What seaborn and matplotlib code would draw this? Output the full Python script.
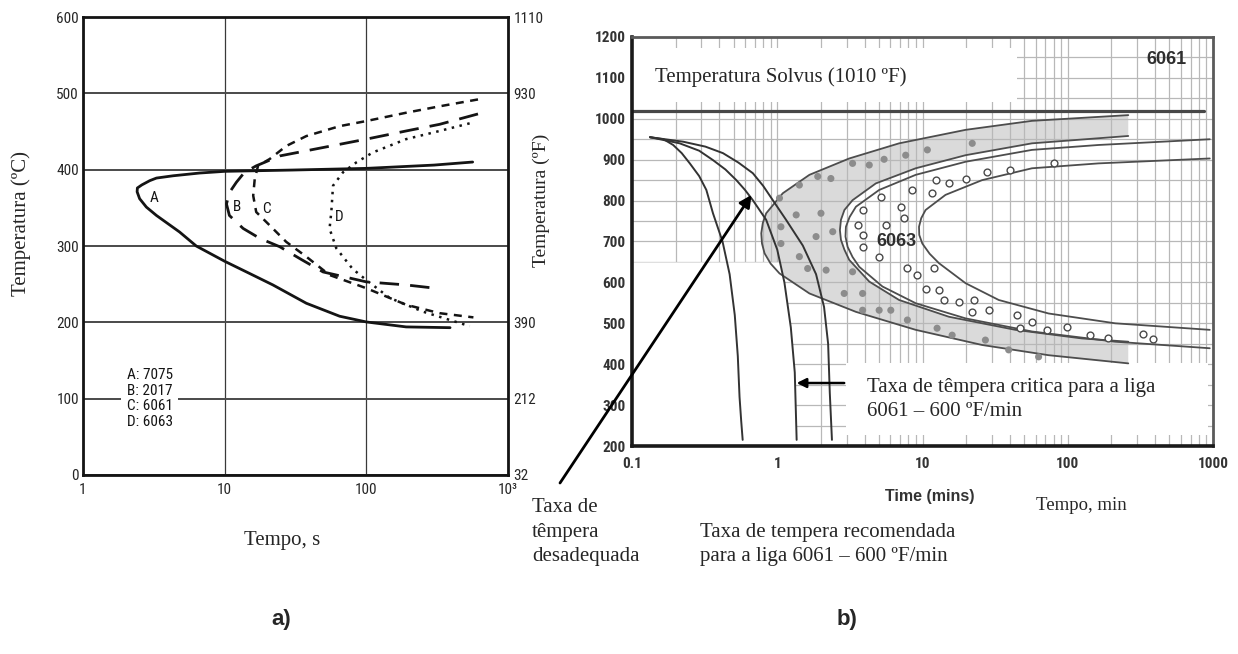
import numpy as np
import pandas as pd
import matplotlib
matplotlib.use("Agg")
import matplotlib.pyplot as plt
import matplotlib.font_manager as fm
from matplotlib.patches import Rectangle
from matplotlib.ticker import NullLocator, LogLocator, NullFormatter
import seaborn as sns

# ----------------------------- DATA: panel a) (time in s, temperature in degC)
a_A_time = [563, 300, 100, 30, 10, 6.66, 4.33, 3.3, 2.96, 2.6, 2.42, 2.41, 2.51, 2.8, 3.3, 4.8, 6.3,
            10, 15, 21.9, 37.7, 64.8, 100, 191, 390]
a_A_temp = [410, 406, 401.7, 399.5, 397.8, 395.6, 392, 389, 385.6, 380, 376, 371, 362, 351, 340, 318.4, 300,
            280, 264, 249, 225, 208, 200.5, 194, 193]
a_B_time = [614, 329, 191, 100, 49.5, 24.5, 16.7, 13.8, 12.1, 10.8, 10.3, 10.8, 13.5, 17.7, 24.5, 35,
            49.5, 100, 191, 280]
a_B_temp = [473, 459.4, 450.7, 440, 429, 418, 405, 396.5, 383.5, 370, 355, 340, 323, 310, 299, 282,
            266, 253, 249, 245.5]
a_C_time = [614, 329, 191, 100, 64.8, 37.7, 27.2, 20.8, 17.2, 16.3, 15.9, 16.7, 20.8, 27.2, 37.7, 55,
            100, 191, 329, 570]
a_C_temp = [492, 483, 474.6, 463.7, 457, 444, 431, 414, 405, 387.8, 366, 344.5, 327, 305.4, 286, 262,
            244.7, 223, 212, 206.5]
a_D_time = [536, 329, 191, 111, 85, 68.4, 58.2, 56.6, 55, 61.4, 80, 100, 146, 251, 537]
a_D_temp = [460.7, 450.7, 440, 422.5, 409.5, 396.5, 379, 344.5, 322.7, 297, 270, 255.4, 232, 214, 195]
a_curve_letters = ["A", "B", "C", "D"]
a_letter_time = [3.18, 12.3, 19.6, 64]
a_letter_temp = [363, 351, 349, 338.6]
a_legend_lines = ["A: 7075", "B: 2017", "C: 6061", "D: 6063"]
a_yticks_C = [0, 100, 200, 300, 400, 500, 600]
a_xticks = [1, 10, 100, 1000]
a_xticklabels = ["1", "10", "100", "10³"]
a_right_ticks_C = [0, 100, 200, 500, 600]
a_right_labels_F = ["32", "212", "390", "930", "1110"]

# ----------------------------- DATA: panel b) (time in min, temperature in degF)
b_cool1_time = [0.133, 0.165, 0.192, 0.22, 0.25, 0.29, 0.325, 0.361, 0.42, 0.47, 0.51, 0.535, 0.55, 0.565, 0.578]
b_cool1_temp = [955, 950, 936, 916, 891, 860, 826, 769, 700, 620, 520, 420, 320, 260, 215]
b_cool2_time = [0.133, 0.213, 0.29, 0.361, 0.44, 0.523, 0.6, 0.679, 0.839, 1.0, 1.12, 1.24, 1.32, 1.36]
b_cool2_temp = [955, 940, 922, 899, 876, 850, 826, 801, 753, 680, 600, 490, 380, 215]
b_cool3_time = [0.133, 0.225, 0.32, 0.423, 0.54, 0.679, 0.8, 0.932, 1.15, 1.50, 1.85, 2.10, 2.24, 2.30, 2.38]
b_cool3_temp = [955, 944, 932, 916, 893, 867, 836, 801, 753, 690, 620, 540, 450, 330, 215]

b_6061_outer_time = [261, 56.7, 19.8, 6.90, 3.13, 1.665, 1.092, 0.839, 0.795, 0.776, 0.785, 0.818, 0.9,
                     1.036, 1.665, 3.48, 8.98, 25.7, 73.8, 261]
b_6061_outer_temp = [1009, 995, 973, 940, 903, 863, 818, 769, 745, 720, 695, 671, 646,
                     622, 573, 528, 484, 447, 422, 402]
b_6061_inner_time = [261, 56.7, 19.8, 8.98, 4.77, 3.30, 2.9, 2.745, 2.7, 2.745, 2.9, 3.13, 4.30, 6.90,
                     15.2, 43.6, 125, 261]
b_6061_inner_temp = [958, 940, 911, 879, 842, 801, 777, 753, 728, 704, 680, 655, 602, 557,
                     516, 484, 463, 455]
b_6063_outer_time = [950, 163, 56.7, 19.8, 8.98, 5.03, 3.48, 3.15, 2.97, 2.95, 3.05, 3.3, 3.67, 5.30,
                     8.98, 19.8, 56.7, 212, 950]
b_6063_outer_temp = [950, 936, 924, 895, 863, 826, 785, 760, 736, 712, 687, 662, 638, 590,
                     549, 512, 480, 455, 439]
b_6063_inner_time = [950, 163, 56.7, 25.7, 14.4, 10.5, 9.8, 9.46, 9.5, 9.97, 11.2, 12.98, 19.8, 33.5,
                     73.8, 212, 950]
b_6063_inner_temp = [903, 891, 879, 850, 814, 777, 757, 736, 716, 695, 670, 647, 598, 557,
                     524, 500, 484]

b_dot_time = [10.8, 7.66, 5.44, 4.30, 3.30, 2.34, 1.90, 1.42, 1.036, 1.35, 1.06, 2.00, 2.41, 1.85,
              1.42, 1.06, 2.17, 3.30, 1.62, 2.89, 3.87, 5.03, 6.05, 7.87, 3.87, 12.6, 16.0, 22.0,
              27.1, 39.2, 63]
b_dot_temp = [924, 911, 901, 887, 891, 854, 859, 838, 806, 765, 736, 769, 724, 712,
              663, 695, 630, 626, 634, 573, 573, 532, 532, 508, 532, 488, 471, 940,
              459, 435, 418]
b_ring_time = [79.8, 40.3, 27.9, 19.8, 15.2, 12.3, 8.52, 11.7, 5.16, 3.87, 7.08, 7.46, 5.59, 3.57,
               3.87, 3.87, 5.03, 7.87, 9.21, 12.0, 10.5, 12.98, 14.0, 17.8, 22.6, 22.0, 28.6,
               44.7, 56.7, 47.2, 71.9, 98.6, 142, 190, 331, 388]
b_ring_temp = [891, 875, 871, 854, 842, 850, 826, 818, 810, 777, 785, 757, 740, 740,
               716, 687, 663, 634, 618, 634, 585, 581, 557, 553, 557, 528, 532,
               520, 504, 488, 484, 492, 471, 463, 475, 461]
b_solvus_temp = 1020
b_yticks = [200, 300, 400, 500, 600, 700, 800, 900, 1000, 1100, 1200]
b_xticks = [0.1, 1, 10, 100, 1000]
b_xticklabels = ["0.1", "1", "10", "100", "1000"]

# ----------------------------- fonts
sns.set_style("white")
names = {f.name for f in fm.fontManager.ttflist}
def pick(cands, default="DejaVu Sans"):
    for c in cands:
        if c in names:
            return c
    return default
NARROW = pick(["Liberation Sans Narrow", "Roboto Condensed", "Open Sans Condensed"], "DejaVu Sans")
SANS = pick(["Liberation Sans", "Arimo"], "DejaVu Sans")
SERIF = pick(["Liberation Serif", "Tinos"], "DejaVu Serif")
plt.rcParams["font.family"] = [SANS, "DejaVu Sans"]
narrow_kw = dict(family=[NARROW, "DejaVu Sans"], stretch="condensed")
nsize = 11 if NARROW != "DejaVu Sans" else 9.5
serif_kw = dict(family=[SERIF, "DejaVu Serif"])

W, H = 1238, 654
fig = plt.figure(figsize=(W / 100, H / 100), dpi=100)
fig.patch.set_facecolor("white")
def fx(x):
    return x / W
def fy(y):
    return 1 - y / H

# ============================== panel a ==============================
ax = fig.add_axes([fx(83), fy(475), 425 / W, 458 / H])
ax.set_xscale("log")
ax.set_xlim(1, 1000)
ax.set_ylim(0, 600)

curves_a = [
    (a_A_time, a_A_temp, None, 2.0),
    (a_B_time, a_B_temp, (7, 4), 2.0),
    (a_C_time, a_C_temp, (3.2, 2.6), 1.8),
    (a_D_time, a_D_temp, (1.0, 2.2), 1.8),
]
for t, T, dash, lw in curves_a:
    df = pd.DataFrame({"t": t, "T": T})
    sns.lineplot(data=df, x="t", y="T", sort=False, estimator=None, ax=ax,
                 color="#141414", linewidth=lw, zorder=3)
    ln = ax.lines[-1]
    ln.set_solid_joinstyle("round")
    ln.set_dash_joinstyle("round")
    if dash is not None:
        ln.set_dashes(dash)

for lab, t, T in zip(a_curve_letters, a_letter_time, a_letter_temp):
    ax.text(t, T, lab, ha="center", va="center", fontsize=nsize, color="#141414", **narrow_kw)

ax.text(2.03, 100, "\n".join(a_legend_lines), ha="left", va="center", fontsize=nsize,
        linespacing=1.15, color="#141414", zorder=4,
        bbox=dict(facecolor="white", edgecolor="none", pad=4), **narrow_kw)

ax.set_yticks(a_yticks_C)
ax.set_yticklabels([str(v) for v in a_yticks_C], fontsize=nsize, **narrow_kw)
ax.set_xticks(a_xticks)
ax.set_xticklabels(a_xticklabels, fontsize=nsize, **narrow_kw)
ax.xaxis.set_minor_locator(NullLocator())
ax.tick_params(axis="y", length=0, pad=3)
ax.tick_params(axis="x", length=0, pad=6)
ax.grid(axis="y", color="#4a4a4a", linewidth=1.4)
ax.grid(axis="x", color="#3a3a3a", linewidth=0.9)
ax.set_axisbelow(True)
for s in ax.spines.values():
    s.set_linewidth(2)
    s.set_color("#141414")
ax.set_xlabel("")
ax.set_ylabel("")

ax2 = ax.twinx()
ax2.set_ylim(0, 600)
ax2.set_yticks(a_right_ticks_C)
ax2.set_yticklabels(a_right_labels_F, fontsize=nsize, **narrow_kw)
ax2.tick_params(axis="y", length=0, pad=4)
for s in ax2.spines.values():
    s.set_visible(False)

fig.text(fx(21), fy(224), "Temperatura (ºC)", rotation=90, ha="center", va="center", fontsize=15, **serif_kw)
fig.text(fx(541), fy(200), "Temperatura (ºF)", rotation=90, ha="center", va="center", fontsize=14, **serif_kw)
fig.text(fx(282), fy(540), "Tempo, s", ha="center", va="center", fontsize=15, **serif_kw)
fig.text(fx(281), fy(620), "a)", ha="center", va="center", fontsize=16, fontweight="bold")

# ============================== panel b ==============================
bx = fig.add_axes([fx(632), fy(446), 581 / W, 409 / H])
bx.set_xscale("log")
bx.set_xlim(0.1, 1000)
bx.set_ylim(200, 1200)
bx.set_yticks(b_yticks)
bx.set_yticks([v + 50 for v in b_yticks[:-1]], minor=True)
bx.set_xticks(b_xticks)
bx.xaxis.set_minor_locator(LogLocator(base=10, subs=np.arange(2, 10)))
bx.xaxis.set_minor_formatter(NullFormatter())
bx.set_yticklabels([str(v) for v in b_yticks], fontsize=nsize, fontweight="bold", color="#333333", **narrow_kw)
bx.set_xticklabels(b_xticklabels, fontsize=nsize, fontweight="bold", color="#333333", **narrow_kw)
bx.tick_params(axis="y", which="major", length=3, width=1.6, color="#333333", pad=1.5)
bx.tick_params(axis="x", which="major", length=0, pad=8)
bx.tick_params(which="minor", length=0)
bx.grid(which="both", color="#b8b8b8", linewidth=0.9)
bx.set_axisbelow(True)
for side, s in bx.spines.items():
    if side in ("left", "bottom"):
        s.set_linewidth(2.6)
        s.set_color("#1a1a1a")
    else:
        s.set_linewidth(2)
        s.set_color("#5a5a5a")

# shaded 6061 band (between outer and inner boundaries)
bx.fill(np.r_[b_6061_outer_time, b_6061_inner_time[::-1]],
        np.r_[b_6061_outer_temp, b_6061_inner_temp[::-1]],
        color="#dadada", lw=0, zorder=0.3)

# white regions of the scan (no grid)
T_edge = np.linspace(200, 650, 60)
t_edge = np.interp(T_edge, b_cool2_temp[::-1], b_cool2_time[::-1])
bx.fill_betweenx(T_edge, 0.1, t_edge, color="white", lw=0, zorder=0.8)
bx.add_patch(Rectangle((0.1, 1041), 44.5 - 0.1, 1173 - 1041, facecolor="white", edgecolor="none", zorder=1))
bx.add_patch(Rectangle((2.98, 227), 925 - 2.98, 403 - 227, facecolor="white", edgecolor="none", zorder=1))

bx.axhline(b_solvus_temp, xmin=0, xmax=0.985, color="#474747", lw=2.3, zorder=2)

for t, T in [(b_6061_outer_time, b_6061_outer_temp), (b_6061_inner_time, b_6061_inner_temp),
             (b_6063_outer_time, b_6063_outer_temp), (b_6063_inner_time, b_6063_inner_temp)]:
    sns.lineplot(x=t, y=T, sort=False, estimator=None, ax=bx, color="#4d4d4d", linewidth=1.3, zorder=2)
    bx.lines[-1].set_solid_joinstyle("round")

sns.scatterplot(x=b_dot_time, y=b_dot_temp, ax=bx, s=26, color="#8c8c8c", edgecolor="none", zorder=2.5)
sns.scatterplot(x=b_ring_time, y=b_ring_temp, ax=bx, s=24, color="white", edgecolor="#4a4a4a",
                linewidth=1.0, zorder=2.5)

for t, T in [(b_cool1_time, b_cool1_temp), (b_cool2_time, b_cool2_temp), (b_cool3_time, b_cool3_temp)]:
    sns.lineplot(x=t, y=T, sort=False, estimator=None, ax=bx, color="#333333", linewidth=1.4, zorder=3)
    bx.lines[-1].set_solid_joinstyle("round")

bx.set_xlabel("")
bx.set_ylabel("")

bx.text(476, 1144, "6061", ha="center", va="center", fontsize=13, fontweight="bold", color="#2e2e2e", zorder=4)
bx.text(6.58, 699, "6063", ha="center", va="center", fontsize=13, fontweight="bold", color="#2e2e2e", zorder=4)

bx.annotate("", xy=(1.36, 354), xytext=(2.89, 354),
            arrowprops=dict(arrowstyle="-|>", color="black", lw=1.8, mutation_scale=14,
                            shrinkA=0, shrinkB=0), annotation_clip=False, zorder=5)
bx.annotate("", xy=(0.665, 814), xycoords="data", xytext=(fx(560), fy(483)), textcoords="figure fraction",
            arrowprops=dict(arrowstyle="-|>", color="black", lw=2.0, mutation_scale=18,
                            shrinkA=0, shrinkB=0), annotation_clip=False, zorder=5)

fig.text(fx(655), fy(77), "Temperatura Solvus (1010 ºF)", ha="left", va="center", fontsize=15, **serif_kw)
fig.text(fx(867), fy(399.5), "Taxa de têmpera critica para a liga\n6061 – 600 ºF/min",
         ha="left", va="center", fontsize=15, linespacing=1.38, **serif_kw)
fig.text(fx(532), fy(532), "Taxa de\ntêmpera\ndesadequada", ha="left", va="center",
         fontsize=15, linespacing=1.38, **serif_kw)
fig.text(fx(700), fy(544.5), "Taxa de tempera recomendada\npara a liga 6061 – 600 ºF/min",
         ha="left", va="center", fontsize=15, linespacing=1.38, **serif_kw)
fig.text(fx(930), fy(497), "Time (mins)", ha="center", va="center", fontsize=11.5,
         fontweight="bold", color="#333333")
fig.text(fx(1036), fy(506), "Tempo, min", ha="left", va="center", fontsize=13.5, **serif_kw)
fig.text(fx(847), fy(620), "b)", ha="center", va="center", fontsize=16, fontweight="bold")

fig.savefig("out.png", dpi=100, facecolor="white")
